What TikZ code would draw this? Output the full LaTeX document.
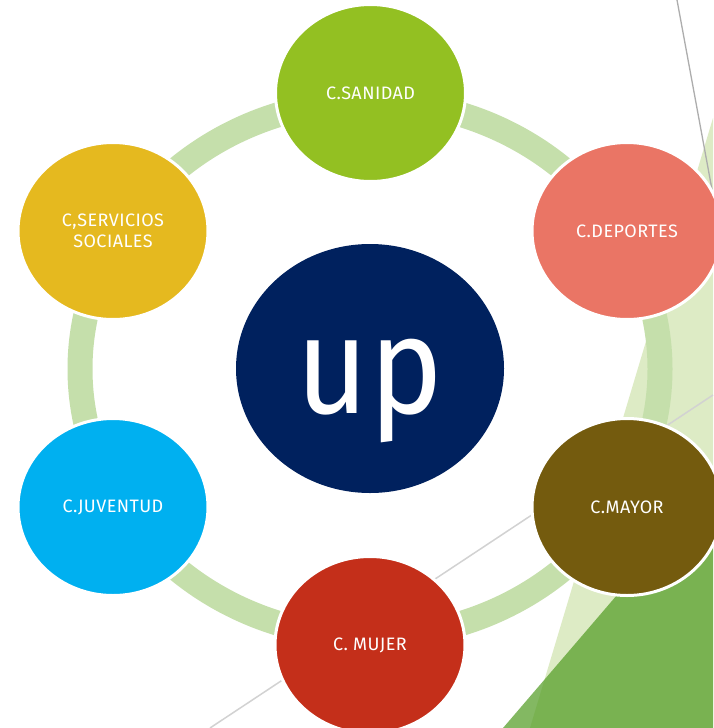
\documentclass[tikz,border=0pt]{standalone}
\usepackage{fontspec}
\setmainfont{Fira Sans}
\newfontfamily\labelfont[LetterSpace=2.5]{Fira Sans}
\usetikzlibrary{shapes.geometric}
\definecolor{sanidadc}{HTML}{93C022}
\definecolor{deportesc}{HTML}{EA7565}
\definecolor{mayorc}{HTML}{745B0E}
\definecolor{mujerc}{HTML}{C42F1A}
\definecolor{juventudc}{HTML}{00B0F0}
\definecolor{serviciosc}{HTML}{E5B91F}
\definecolor{navyc}{HTML}{00215E}
\definecolor{ringc}{HTML}{C5DFAB}
\definecolor{lightbgc}{HTML}{DDEBC5}
\definecolor{darkbgc}{RGB}{79,154,32}
\definecolor{linec}{HTML}{ADADAD}
\definecolor{linelightc}{HTML}{D2D2D2}
\begin{document}
\begin{tikzpicture}[x=1pt,y=-1pt,
  bubble/.style={ellipse, draw=white, line width=3pt, minimum width=190pt,
    minimum height=177pt, inner sep=0pt, text=white, align=center,
    font=\labelfont\fontsize{18}{20.5}\selectfont},
  hub/.style={ellipse, minimum width=268pt, minimum height=249pt, inner sep=0pt,
    fill=navyc, text=white, text height=100pt, text depth=11pt},
  ringband/.style={draw=ringc, line width=25pt},
  bgline/.style={draw=linec, line width=1.3pt},
  bglinelight/.style={draw=linelightc, line width=1.5pt}]
\useasboundingbox (0,0) rectangle (713,728);
\fill[white] (0,0) rectangle (713,728);
% background decorations
\fill[lightbgc] (713,118) -- (530,728) -- (713,728) -- cycle;
\fill[darkbgc, opacity=0.7] (503,728) -- (713,483) -- (713,728) -- cycle;
\coordinate (la) at (677,0);
\coordinate (lb) at (713,195);
\coordinate (lc) at (210,728);
\coordinate (ld) at (713,395);
\draw[bgline] (la) -- (lb);
\draw[bglinelight] (lc) -- (ld);
% ring
\draw[ringband] (370,369) ellipse [x radius=290pt, y radius=268pt];
% center
\node[hub] (up) at (370,368.5) {\scalebox{0.9}[1]{\fontsize{138}{138}\selectfont up}};
% nodes
\node[bubble, fill=sanidadc] (san) at (370.5,93) {C.SANIDAD};
\node[bubble, fill=deportesc] (dep) at (627,231) {C.DEPORTES};
\node[bubble, fill=mayorc] (may) at (627,507) {C.MAYOR};
\node[bubble, fill=mujerc] (muj) at (370,645) {C. MUJER};
\node[bubble, fill=juventudc] (juv) at (113,507) {C.JUVENTUD};
\node[bubble, fill=serviciosc] (ser) at (113,231) {C,SERVICIOS\\SOCIALES};
\end{tikzpicture}
\end{document}
